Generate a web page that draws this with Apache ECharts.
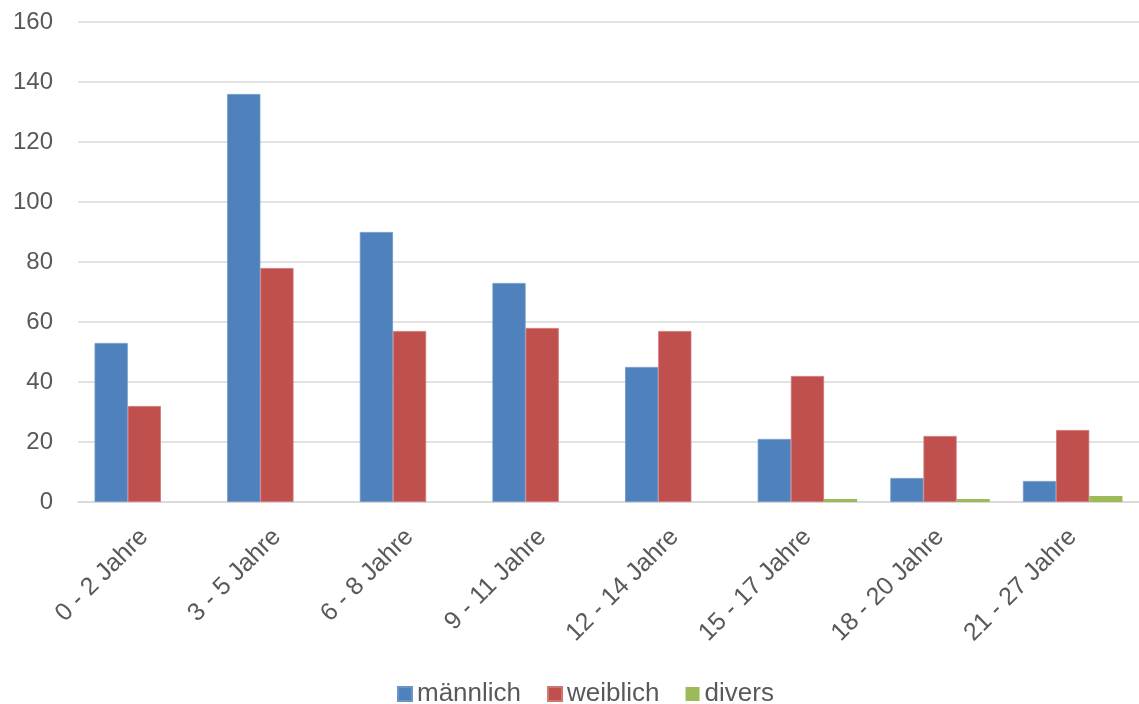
<!DOCTYPE html>
<html><head><meta charset="utf-8">
<script src="https://cdn.jsdelivr.net/npm/echarts@6/dist/echarts.min.js"></script>
<style>html,body{margin:0;padding:0;background:#fff}#c{width:1139px;height:704px}</style>
</head><body><div id="c"></div>
<script>
const categories = ['0 - 2 Jahre','3 - 5 Jahre','6 - 8 Jahre','9 - 11 Jahre','12 - 14 Jahre','15 - 17 Jahre','18 - 20 Jahre','21 - 27 Jahre'];
const maennlich = [53, 136, 90, 73, 45, 21, 8, 7];
const weiblich = [32, 78, 57, 58, 57, 42, 22, 24];
const divers = [0, 0, 0, 0, 0, 1, 1, 2];
const font = 'Liberation Sans, Arial, sans-serif';
const chart = echarts.init(document.getElementById('c'));
chart.setOption({
  animation: false,
  textStyle: {fontFamily: font},
  grid: {left: 78, right: 0, top: 22, bottom: 202, containLabel: false},
  legend: {
    top: 676, left: 392, itemWidth: 14, itemHeight: 14, itemGap: 26,
    icon: 'rect',
    textStyle: {fontSize: 26, color: '#595959', fontFamily: font, padding: [0,0,0,0]},
    data: ['männlich','weiblich','divers']
  },
  xAxis: {
    type: 'category', data: categories,
    axisLine: {lineStyle: {color: '#d9d9d9', width: 1.5}},
    axisTick: {show: false},
    axisLabel: {rotate: 45, fontSize: 25, color: '#595959', margin: 31, interval: 0}
  },
  yAxis: {
    type: 'value', min: 0, max: 160, interval: 20,
    axisLine: {show: false}, axisTick: {show: false},
    splitLine: {lineStyle: {color: '#d9d9d9', width: 1.5}},
    axisLabel: {fontSize: 24, color: '#595959', margin: 25}
  },
  series: [
    {name: 'männlich', type: 'bar', data: maennlich, barGap: '0%', barCategoryGap: '25%',
     itemStyle: {color: '#4F81BD', borderColor: '#6b95c9', borderWidth: 0.8}},
    {name: 'weiblich', type: 'bar', data: weiblich, barGap: '0%', barCategoryGap: '25%',
     itemStyle: {color: '#C0504D', borderColor: '#d07573', borderWidth: 0.8}},
    {name: 'divers', type: 'bar', data: divers, barGap: '0%', barCategoryGap: '25%',
     itemStyle: {color: '#9BBB59'}}
  ]
});
</script></body></html>
